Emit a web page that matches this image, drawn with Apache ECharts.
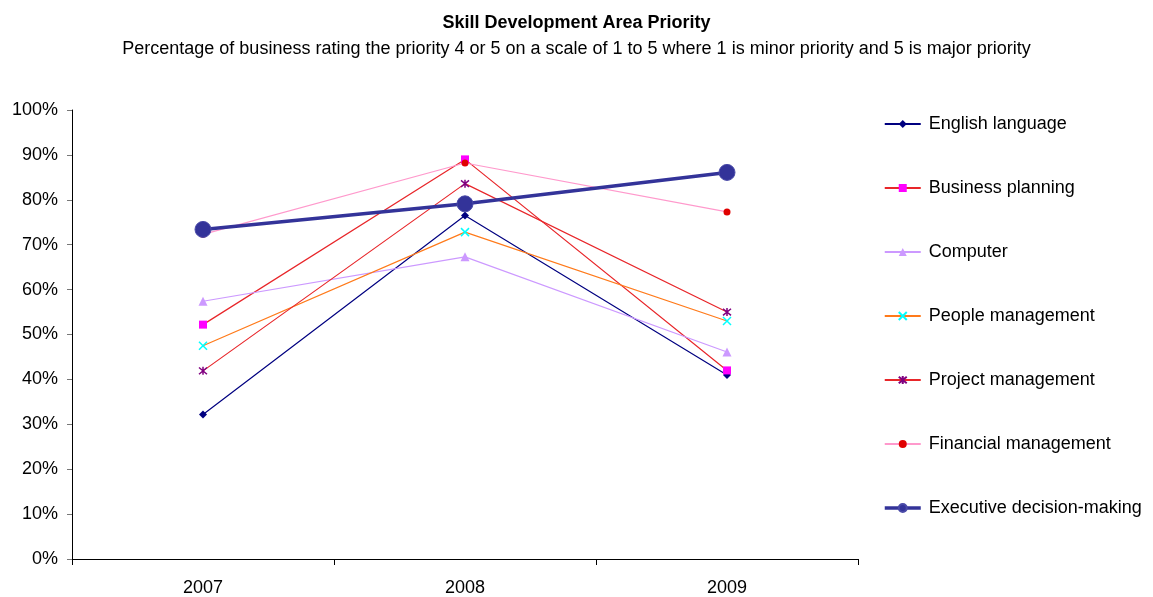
<!DOCTYPE html>
<html><head><meta charset="utf-8">
<script src="https://cdn.jsdelivr.net/npm/echarts@6/dist/echarts.min.js"></script>
<style>html,body{margin:0;padding:0;background:#fff}#c{width:1153px;height:597px}</style>
</head><body><div id="c"></div>
<script>
const years = ['2007', '2008', '2009'];
const englishLanguage = [32.2, 76.5, 41.0];
const businessPlanning = [52.2, 89.0, 42.0];
const computer = [57.4, 67.3, 46.1];
const peopleManagement = [47.5, 72.8, 53.0];
const projectManagement = [41.9, 83.6, 55.0];
const financialManagement = [72.3, 88.2, 77.3];
const executiveDecision = [73.4, 79.1, 86.1];
const yTicks = [0, 10, 20, 30, 40, 50, 60, 70, 80, 90, 100];

const CROSS = 'path://M0,0 L10,10 M10,0 L0,10';
const STAR = 'path://M0,0 L10,10 M10,0 L0,10 M5,-1 L5,11';

function s(name, data, lineColor, symbol, symColor, size, lw, extra) {
  return Object.assign({
    name, type: 'line', data, symbol, symbolSize: size,
    lineStyle: {color: lineColor, width: lw},
    itemStyle: {color: symColor, borderColor: symColor, borderWidth: 0},
    emphasis: {disabled: true}, animation: false
  }, extra || {});
}
const series = [
  s('English language', englishLanguage, '#000080', 'diamond', '#000080', 8, 1.2),
  s('Business planning', businessPlanning, '#e8262a', 'rect', '#ff00ff', 8, 1.2),
  s('Computer', computer, '#cc99ff', 'triangle', '#cc99ff', 9, 1.2),
  s('People management', peopleManagement, '#ff7a1a', CROSS, '#00ffff', 8, 1.2, {itemStyle:{color:'#00ffff',borderColor:'#00ffff',borderWidth:1.5}}),
  s('Project management', projectManagement, '#e8262a', STAR, '#800080', 8, 1.2, {itemStyle:{color:'#800080',borderColor:'#800080',borderWidth:1.5}}),
  s('Financial management', financialManagement, '#ff99cc', 'circle', '#e00000', 7, 1.2),
  s('Executive decision-making', executiveDecision, '#333399', 'circle', '#333399', 16, 3.5, {itemStyle:{color:'#333399',borderColor:'#4a4aa8',borderWidth:1}})
];

const legendData = series.map(x => x.name === 'Executive decision-making'
  ? {name: x.name, lineStyle: {width: 3.5, color: '#333399'}}
  : {name: x.name});

const chart = echarts.init(document.getElementById('c'), null, {renderer: 'canvas'});
chart.setOption({
  backgroundColor: '#fff',
  textStyle: {fontFamily: 'Liberation Sans, Arial, sans-serif'},
  title: [
    {text: 'Skill Development Area Priority', left: 'center', top: 9, textStyle: {fontSize: 18, fontWeight: 'bold', color: '#000', fontFamily: 'Liberation Sans'}},
    {text: 'Percentage of business rating the priority 4 or 5 on a scale of 1 to 5 where 1 is minor priority and 5 is major priority', left: 'center', top: 35, textStyle: {fontSize: 18, fontWeight: 'normal', color: '#000', fontFamily: 'Liberation Sans'}}
  ],
  legend: {
    orient: 'vertical', left: 878, top: 110, itemWidth: 36, itemHeight: 10, itemGap: 46,
    textStyle: {fontSize: 18, color: '#000', fontFamily: 'Liberation Sans', padding: [0,0,0,3]},
    data: legendData, selectedMode: false
  },
  grid: {left: 72, right: 295, top: 110, bottom: 37, containLabel: false},
  xAxis: {
    type: 'category', data: years, boundaryGap: true,
    axisLine: {lineStyle: {color: '#000', width: 1}},
    axisTick: {show: true, length: 6, lineStyle: {color: '#000'}, alignWithLabel: false},
    axisLabel: {fontSize: 18, color: '#000', margin: 20, fontFamily: 'Liberation Sans'}
  },
  yAxis: {
    type: 'value', min: 0, max: 100, interval: 10,
    axisLine: {show: true, lineStyle: {color: '#000'}},
    axisTick: {show: true, length: 5, lineStyle: {color: '#777'}},
    splitLine: {show: false},
    axisLabel: {fontSize: 18, color: '#000', margin: 14, fontFamily: 'Liberation Sans', formatter: v => yTicks.includes(v) ? v + '%' : ''}
  },
  series
});
</script></body></html>
